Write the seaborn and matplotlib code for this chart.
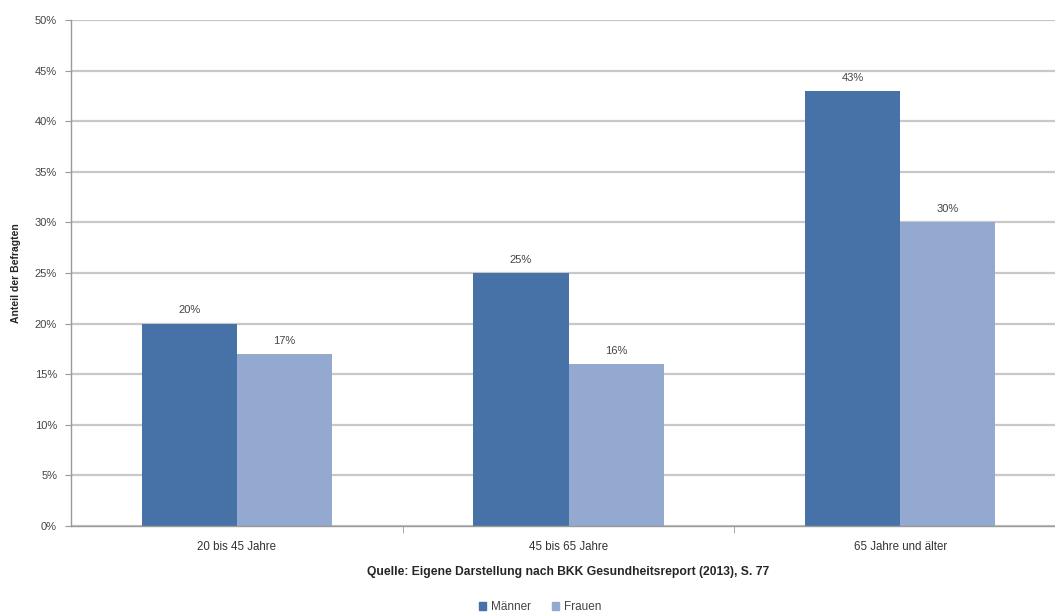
import matplotlib
matplotlib.use("Agg")
import matplotlib.pyplot as plt
import seaborn as sns
import pandas as pd
import numpy as np
from matplotlib.patches import Patch

categories = ["20 bis 45 Jahre", "45 bis 65 Jahre", "65 Jahre und älter"]
maenner = [20, 25, 43]
frauen = [17, 16, 30]
series_names = ["Männer", "Frauen"]
colors = ["#4672A8", "#93A9CF"]

df = pd.DataFrame({
    "Kategorie": categories * 2,
    "Wert": maenner + frauen,
    "Geschlecht": [series_names[0]] * 3 + [series_names[1]] * 3,
})

sns.set_style("white")
plt.rcParams["font.family"] = ["Liberation Sans", "DejaVu Sans"]

fig = plt.figure(figsize=(10.55, 6.15), dpi=100)
ax = fig.add_axes([71 / 1055, 89 / 615, 995 / 1055, 506 / 615])

sns.barplot(data=df, x="Kategorie", y="Wert", hue="Geschlecht", order=categories,
            hue_order=series_names, palette=colors, width=0.573, gap=0,
            saturation=1, ax=ax, legend=False, linewidth=0)

ax.set_ylim(0, 50)
ax.set_xlim(-0.5, 2.5)
ax.set_yticks(np.arange(0, 51, 5))
ax.set_yticklabels([f"{v}%" for v in range(0, 51, 5)], fontsize=8, color="#444444")
ax.yaxis.grid(True, color="#c8c8c8", linewidth=1.6)
ax.set_axisbelow(True)
ax.tick_params(axis="y", length=4, color="#999999", pad=6, left=True)
ax.tick_params(axis="x", length=0, labelsize=8.3, labelcolor="#333333", pad=11)
ax.set_xticks([0.5, 1.5], minor=True)
ax.tick_params(axis="x", which="minor", length=5, color="#999999", bottom=True)
for s in ["top", "right"]:
    ax.spines[s].set_visible(False)
for s in ["left", "bottom"]:
    ax.spines[s].set_color("#999999")
    ax.spines[s].set_linewidth(1.0)

ax.set_ylabel("Anteil der Befragten", fontsize=7.5, fontweight="bold", labelpad=10)
ax.set_xlabel("Quelle: Eigene Darstellung nach BKK Gesundheitsreport (2013), S. 77",
              fontsize=8.7, fontweight="bold", labelpad=9)

for cont in ax.containers:
    ax.bar_label(cont, labels=[f"{int(v)}%" for v in cont.datavalues],
                 fontsize=8, color="#444444", padding=6)

handles = [Patch(color=c, label=n) for c, n in zip(colors, series_names)]
fig.legend(handles=handles, loc="center", bbox_to_anchor=(540 / 1055, 1 - 607 / 615),
           ncol=2, frameon=False, fontsize=8.5, handlelength=0.6, handleheight=0.6,
           handletextpad=0.4, columnspacing=1.8, labelcolor="#444444")

fig.savefig("out.png", dpi=100, facecolor="white")
